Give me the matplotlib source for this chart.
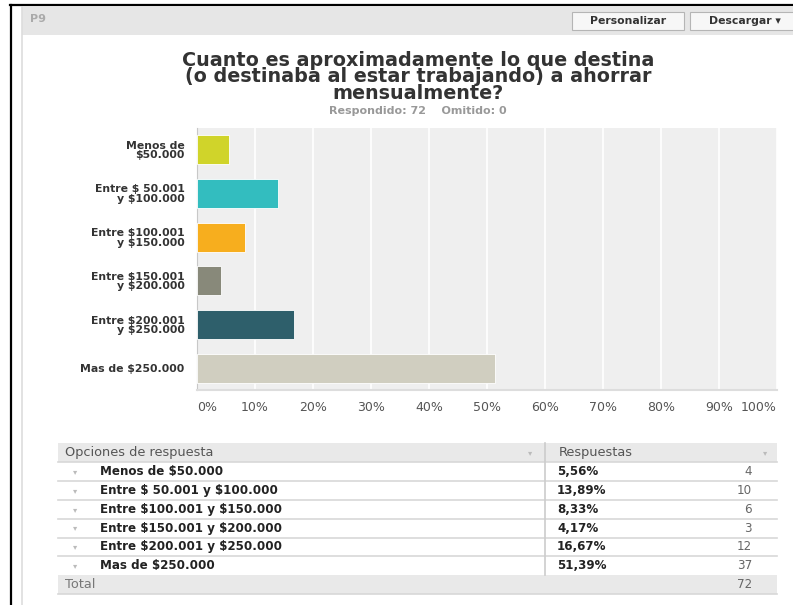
import numpy as np
import matplotlib
matplotlib.use("Agg")
import matplotlib.pyplot as plt
from matplotlib.patches import Rectangle

plt.rcParams["text.parse_math"] = False

# data
axis_labels = ["Menos de\n$50.000", "Entre $ 50.001\ny $100.000", "Entre $100.001\ny $150.000",
               "Entre $150.001\ny $200.000", "Entre $200.001\ny $250.000", "Mas de $250.000"]
row_labels = ["Menos de $50.000", "Entre $ 50.001 y $100.000", "Entre $100.001 y $150.000",
              "Entre $150.001 y $200.000", "Entre $200.001 y $250.000", "Mas de $250.000"]
pct = [5.56, 13.89, 8.33, 4.17, 16.67, 51.39]
counts = [4, 10, 6, 3, 12, 37]
colors = ["#d0d42a", "#33bdbf", "#f7ae1e", "#88897a", "#2e5f6b", "#d0cec0"]
xticks = [0, 10, 20, 30, 40, 50, 60, 70, 80, 90, 100]

W, H = 793, 605
fig = plt.figure(figsize=(W / 100, H / 100), dpi=100)
fig.patch.set_facecolor("white")

# overlay in pixel coords for frame, header and table
bg = fig.add_axes([0, 0, 1, 1])
bg.set_xlim(0, W)
bg.set_ylim(H, 0)
bg.axis("off")

# black frame + panel border
bg.plot([10.5, 10.5], [5, H], color="black", lw=1.6)
bg.plot([10, W], [5, 5], color="black", lw=1.6)
bg.plot([21.5, 21.5], [7, H], color="#dddddd", lw=1.2)

# header bar
bg.add_patch(Rectangle((22, 7), W - 22, 28, facecolor="#e6e6e6", edgecolor="none"))
bg.text(30, 19, "P9", color="#aaaaaa", fontsize=8, fontweight="bold", va="center", ha="left")
for x0, x1, xc, lab in [(572, 684, 628, "Personalizar"), (690, 800, 745, "Descargar \u25be")]:
    bg.add_patch(Rectangle((x0, 12), x1 - x0, 18, facecolor="#f7f7f7",
                           edgecolor="#b5b5b5", lw=0.8))
    bg.text(xc, 21, lab, color="#333333", fontsize=7.8, fontweight="bold",
            ha="center", va="center")

# title
bg.text(418, 77, "Cuanto es aproximadamente lo que destina\n(o destinaba al estar trabajando) a ahorrar\nmensualmente?",
        ha="center", va="center", fontsize=13.8, fontweight="bold", color="#333333",
        linespacing=0.85)
bg.text(418, 111, "Respondido: 72    Omitido: 0", ha="center", va="center",
        fontsize=8, fontweight="bold", color="#999999")

# bar chart
ax = fig.add_axes([197 / W, 1 - 390 / H, 580 / W, 262 / H])
ax.set_facecolor("#efefef")
y = np.arange(len(pct))
ax.barh(y, pct, height=0.66, color=colors, edgecolor="white", lw=0.6, zorder=3)
ax.set_xlim(0, 100)
ax.set_ylim(5.5, -0.5)
ax.set_xticks(xticks)
ax.xaxis.grid(True, color="white", lw=1.2, zorder=0)
ax.set_axisbelow(True)
ax.tick_params(length=0)
ax.set_xticklabels([f"{v}%" for v in xticks], fontsize=9, color="#555555")
ax.get_xticklabels()[0].set_ha("left")
ax.get_xticklabels()[-1].set_ha("right")
ax.tick_params(axis="x", pad=8)
ax.set_yticks(y)
ax.set_yticklabels(axis_labels, fontsize=7.8, fontweight="bold", color="#333333",
                   linespacing=0.95)
ax.tick_params(axis="y", pad=9)
for s in ["top", "right"]:
    ax.spines[s].set_visible(False)
ax.spines["left"].set_color("#c8c8c8")
ax.spines["bottom"].set_color("#dddddd")
ax.spines["bottom"].set_linewidth(1.5)

# table
tx0, tx1, tdiv = 58, 777, 545
hy0, rh = 443, 18.9
bg.add_patch(Rectangle((tx0, hy0), tx1 - tx0, rh, facecolor="#e9e9e9", edgecolor="none"))
bg.text(65, hy0 + rh / 2, "Opciones de respuesta", fontsize=9.3, color="#555555", va="center")
bg.text(559, hy0 + rh / 2, "Respuestas", fontsize=9.3, color="#555555", va="center")
bg.text(530, hy0 + rh / 2, "\u25be", fontsize=6, color="#bbbbbb", va="center", ha="center")
bg.text(765, hy0 + rh / 2, "\u25be", fontsize=6, color="#bbbbbb", va="center", ha="center")
for i, (lab, p, c) in enumerate(zip(row_labels, pct, counts)):
    ry = hy0 + rh * (i + 1)
    bg.plot([tx0, tx1], [ry, ry], color="#d8d8d8", lw=1.2)
    yc = ry + rh / 2
    bg.text(75, yc, "\u25be", fontsize=6, color="#bbbbbb", va="center", ha="center")
    bg.text(100, yc, lab, fontsize=8.6, fontweight="bold", color="#222222", va="center")
    bg.text(557, yc, f"{p:.2f}%".replace(".", ","), fontsize=8.6, fontweight="bold",
            color="#222222", va="center")
    bg.text(752, yc, str(c), fontsize=8.6, color="#666666", va="center", ha="right")
ty = hy0 + rh * (len(pct) + 1)
bg.plot([tdiv, tdiv], [hy0, ty], color="#cccccc", lw=1.2)
bg.add_patch(Rectangle((tx0, ty), tx1 - tx0, rh, facecolor="#e9e9e9", edgecolor="none"))
bg.text(65, ty + rh / 2, "Total", fontsize=9.3, color="#777777", va="center")
bg.text(752, ty + rh / 2, str(sum(counts)), fontsize=8.6, color="#666666", va="center", ha="right")
bg.plot([tx0, tx1], [ty + rh, ty + rh], color="#d8d8d8", lw=1.2)

fig.savefig("out.png", dpi=100)
